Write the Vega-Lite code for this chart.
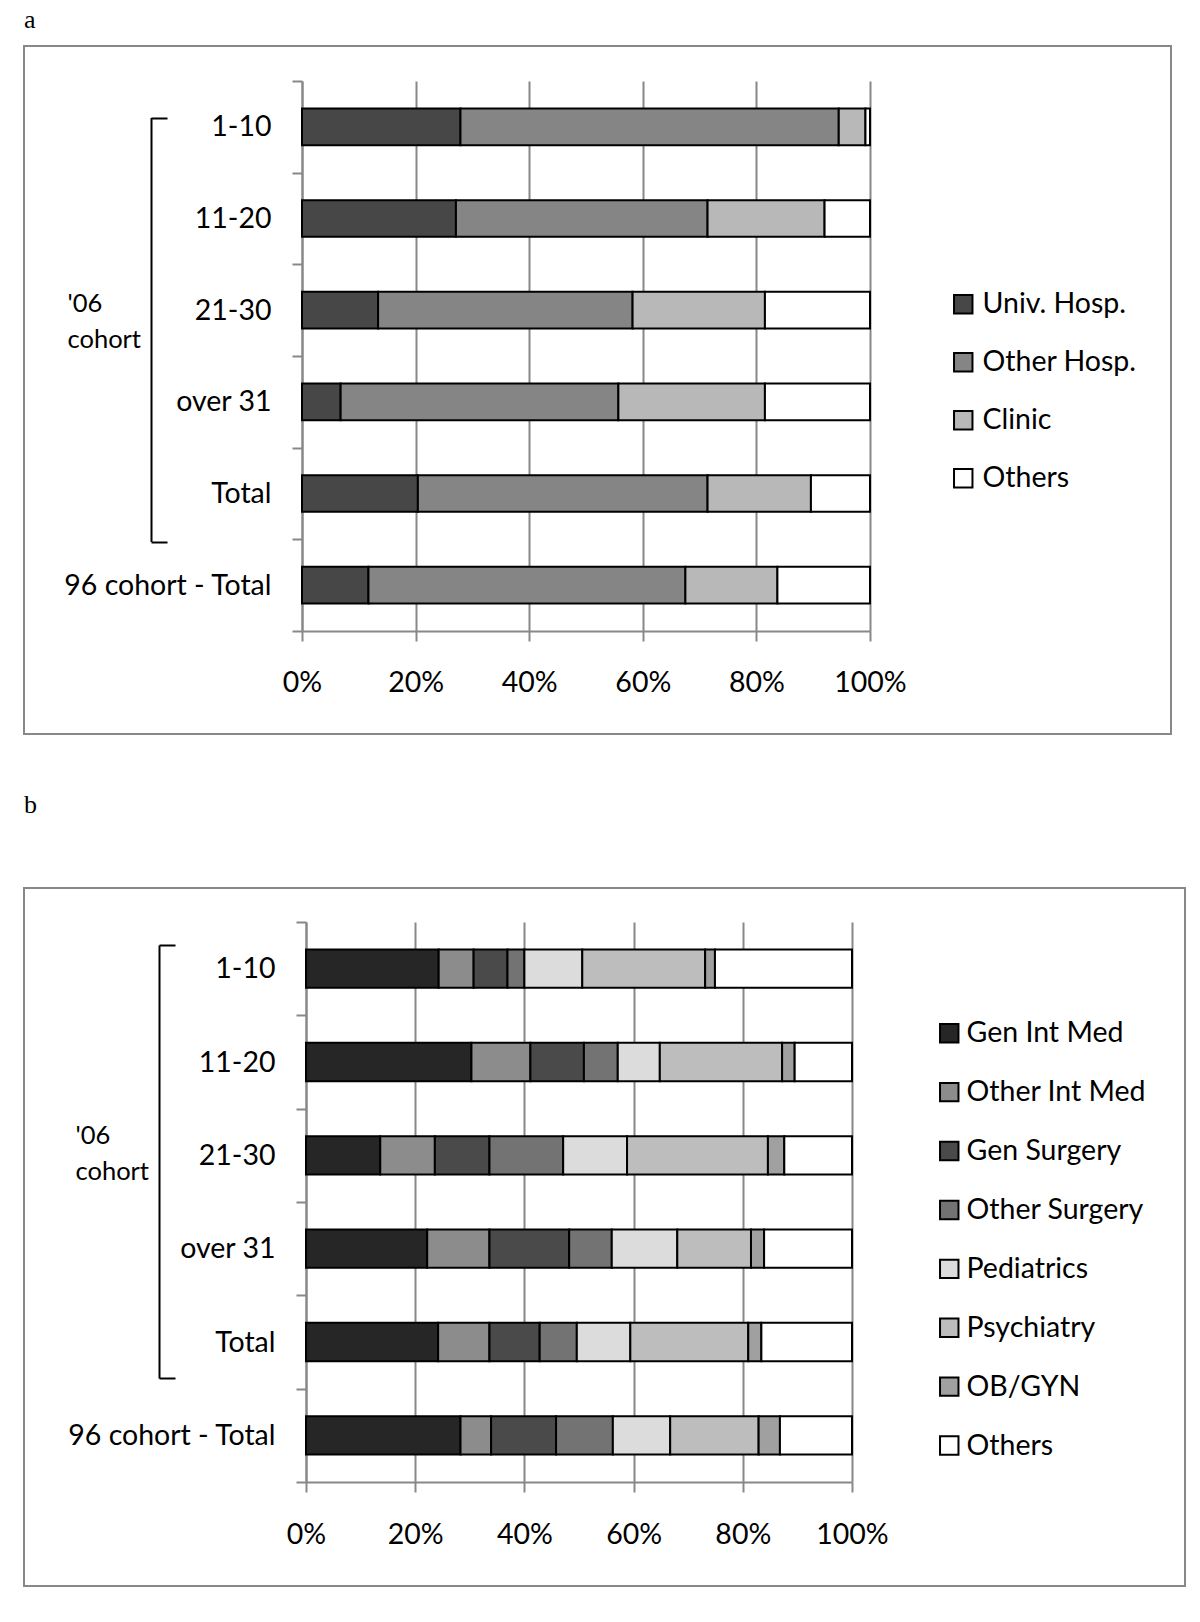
{
  "$schema": "https://vega.github.io/schema/vega-lite/v6.json",
  "background": "white",
  "padding": {"left": 23, "top": 6, "right": 0, "bottom": 0},
  "spacing": 56,
  "datasets": {
    "place": [
      {"g": "1-10", "t": "Univ. Hosp.", "p": 27.9, "o": 1},
      {"g": "1-10", "t": "Other Hosp.", "p": 66.6, "o": 2},
      {"g": "1-10", "t": "Clinic", "p": 4.7, "o": 3},
      {"g": "1-10", "t": "Others", "p": 0.8, "o": 4},
      {"g": "11-20", "t": "Univ. Hosp.", "p": 27.1, "o": 1},
      {"g": "11-20", "t": "Other Hosp.", "p": 44.3, "o": 2},
      {"g": "11-20", "t": "Clinic", "p": 20.6, "o": 3},
      {"g": "11-20", "t": "Others", "p": 8.0, "o": 4},
      {"g": "21-30", "t": "Univ. Hosp.", "p": 13.4, "o": 1},
      {"g": "21-30", "t": "Other Hosp.", "p": 44.8, "o": 2},
      {"g": "21-30", "t": "Clinic", "p": 23.3, "o": 3},
      {"g": "21-30", "t": "Others", "p": 18.5, "o": 4},
      {"g": "over 31", "t": "Univ. Hosp.", "p": 6.8, "o": 1},
      {"g": "over 31", "t": "Other Hosp.", "p": 48.9, "o": 2},
      {"g": "over 31", "t": "Clinic", "p": 25.8, "o": 3},
      {"g": "over 31", "t": "Others", "p": 18.5, "o": 4},
      {"g": "Total", "t": "Univ. Hosp.", "p": 20.4, "o": 1},
      {"g": "Total", "t": "Other Hosp.", "p": 51.0, "o": 2},
      {"g": "Total", "t": "Clinic", "p": 18.2, "o": 3},
      {"g": "Total", "t": "Others", "p": 10.4, "o": 4},
      {"g": "96 cohort - Total", "t": "Univ. Hosp.", "p": 11.7, "o": 1},
      {"g": "96 cohort - Total", "t": "Other Hosp.", "p": 55.8, "o": 2},
      {"g": "96 cohort - Total", "t": "Clinic", "p": 16.2, "o": 3},
      {"g": "96 cohort - Total", "t": "Others", "p": 16.3, "o": 4}
    ],
    "dept": [
      {"g": "1-10", "t": "Gen Int Med", "p": 24.3, "o": 1},
      {"g": "1-10", "t": "Other Int Med", "p": 6.4, "o": 2},
      {"g": "1-10", "t": "Gen Surgery", "p": 6.2, "o": 3},
      {"g": "1-10", "t": "Other Surgery", "p": 3.1, "o": 4},
      {"g": "1-10", "t": "Pediatrics", "p": 10.6, "o": 5},
      {"g": "1-10", "t": "Psychiatry", "p": 22.5, "o": 6},
      {"g": "1-10", "t": "OB/GYN", "p": 1.8, "o": 7},
      {"g": "1-10", "t": "Others", "p": 25.1, "o": 8},
      {"g": "11-20", "t": "Gen Int Med", "p": 30.3, "o": 1},
      {"g": "11-20", "t": "Other Int Med", "p": 10.8, "o": 2},
      {"g": "11-20", "t": "Gen Surgery", "p": 9.8, "o": 3},
      {"g": "11-20", "t": "Other Surgery", "p": 6.2, "o": 4},
      {"g": "11-20", "t": "Pediatrics", "p": 7.7, "o": 5},
      {"g": "11-20", "t": "Psychiatry", "p": 22.4, "o": 6},
      {"g": "11-20", "t": "OB/GYN", "p": 2.3, "o": 7},
      {"g": "11-20", "t": "Others", "p": 10.5, "o": 8},
      {"g": "21-30", "t": "Gen Int Med", "p": 13.6, "o": 1},
      {"g": "21-30", "t": "Other Int Med", "p": 10.0, "o": 2},
      {"g": "21-30", "t": "Gen Surgery", "p": 10.0, "o": 3},
      {"g": "21-30", "t": "Other Surgery", "p": 13.5, "o": 4},
      {"g": "21-30", "t": "Pediatrics", "p": 11.7, "o": 5},
      {"g": "21-30", "t": "Psychiatry", "p": 25.8, "o": 6},
      {"g": "21-30", "t": "OB/GYN", "p": 3.0, "o": 7},
      {"g": "21-30", "t": "Others", "p": 12.4, "o": 8},
      {"g": "over 31", "t": "Gen Int Med", "p": 22.2, "o": 1},
      {"g": "over 31", "t": "Other Int Med", "p": 11.4, "o": 2},
      {"g": "over 31", "t": "Gen Surgery", "p": 14.6, "o": 3},
      {"g": "over 31", "t": "Other Surgery", "p": 7.8, "o": 4},
      {"g": "over 31", "t": "Pediatrics", "p": 12.0, "o": 5},
      {"g": "over 31", "t": "Psychiatry", "p": 13.5, "o": 6},
      {"g": "over 31", "t": "OB/GYN", "p": 2.4, "o": 7},
      {"g": "over 31", "t": "Others", "p": 16.1, "o": 8},
      {"g": "Total", "t": "Gen Int Med", "p": 24.2, "o": 1},
      {"g": "Total", "t": "Other Int Med", "p": 9.4, "o": 2},
      {"g": "Total", "t": "Gen Surgery", "p": 9.2, "o": 3},
      {"g": "Total", "t": "Other Surgery", "p": 6.8, "o": 4},
      {"g": "Total", "t": "Pediatrics", "p": 9.8, "o": 5},
      {"g": "Total", "t": "Psychiatry", "p": 21.6, "o": 6},
      {"g": "Total", "t": "OB/GYN", "p": 2.4, "o": 7},
      {"g": "Total", "t": "Others", "p": 16.6, "o": 8},
      {"g": "96 cohort - Total", "t": "Gen Int Med", "p": 28.3, "o": 1},
      {"g": "96 cohort - Total", "t": "Other Int Med", "p": 5.6, "o": 2},
      {"g": "96 cohort - Total", "t": "Gen Surgery", "p": 11.9, "o": 3},
      {"g": "96 cohort - Total", "t": "Other Surgery", "p": 10.4, "o": 4},
      {"g": "96 cohort - Total", "t": "Pediatrics", "p": 10.5, "o": 5},
      {"g": "96 cohort - Total", "t": "Psychiatry", "p": 16.2, "o": 6},
      {"g": "96 cohort - Total", "t": "OB/GYN", "p": 3.9, "o": 7},
      {"g": "96 cohort - Total", "t": "Others", "p": 13.2, "o": 8}
    ],
    "cohort": [{"c": "'06 cohort"}]
  },
  "vconcat": [
    {
      "width": 1147,
      "height": 688,
      "title": {"text": "a", "anchor": "start", "frame": "group", "font": "Liberation Serif", "fontSize": 26, "fontWeight": "normal", "color": "black", "offset": -1},
      "layer": [
        {
          "data": {"name": "place"},
          "mark": {"type": "bar", "stroke": "black", "strokeWidth": 2, "height": {"band": 0.4}},
          "encoding": {
            "y": {
              "field": "g", "type": "nominal",
              "sort": ["1-10", "11-20", "21-30", "over 31", "Total", "96 cohort - Total"],
              "scale": {"range": [35, 585], "paddingInner": 0, "paddingOuter": 0},
              "axis": {"orient": "left", "offset": -278, "title": null, "tickBand": "extent", "domainColor": "#888", "domainWidth": 2, "tickColor": "#888", "tickWidth": 2, "tickSize": 10, "labelPadding": 21, "labelFont": "Lato", "labelFontSize": 28.5, "labelColor": "black", "labelLimit": 400, "grid": false}
            },
            "x": {
              "field": "p", "type": "quantitative", "stack": "zero",
              "scale": {"domain": [0, 100], "range": [278, 846], "nice": false},
              "axis": {"orient": "top", "offset": -585, "title": null, "values": [0, 20, 40, 60, 80, 100], "labelExpr": "datum.value + '%'", "grid": true, "gridColor": "#888", "gridWidth": 2, "gridOpacity": 1, "domainColor": "#888", "domainWidth": 2, "tickColor": "#888", "tickWidth": 2, "tickSize": -10, "labelPadding": -27, "labelBaseline": "top", "labelFont": "Lato", "labelFontSize": 28.5, "labelColor": "black", "labelFlush": false}
            },
            "fill": {
              "field": "t", "type": "nominal",
              "scale": {"domain": ["Univ. Hosp.", "Other Hosp.", "Clinic", "Others"], "range": ["#474747", "#858585", "#b8b8b8", "#ffffff"]},
              "legend": {"orient": "none", "legendX": 925, "legendY": 244, "title": null, "symbolType": "square", "symbolSize": 340, "symbolStrokeColor": "black", "symbolStrokeWidth": 2, "symbolOpacity": 1, "labelFont": "Lato", "labelFontSize": 28.5, "labelColor": "black", "labelOffset": 5, "rowPadding": 29, "padding": 0, "labelLimit": 300}
            },
            "order": {"field": "o"}
          }
        },
        {
          "data": {"name": "cohort"},
          "mark": {"type": "point", "opacity": 0},
          "encoding": {
            "y": {
              "field": "c", "type": "nominal",
              "scale": {"range": [71.5, 495.5], "paddingInner": 0, "paddingOuter": 0},
              "axis": {"orient": "left", "offset": -127, "labels": false, "tickBand": "extent", "domainColor": "black", "domainWidth": 2, "tickColor": "black", "tickWidth": 2, "tickSize": -16, "grid": false, "title": ["'06", "cohort"], "titleAngle": 0, "titleAlign": "left", "titleBaseline": "top", "titleX": -84, "titleY": 245, "titleFont": "Lato", "titleFontSize": 25.5, "titleFontWeight": "normal", "titleColor": "black", "titleLineHeight": 36}
            }
          }
        }
      ],
      "resolve": {"scale": {"y": "independent"}, "axis": {"y": "independent"}}
    },
    {
      "width": 1161,
      "height": 698,
      "title": {"text": "b", "anchor": "start", "frame": "group", "font": "Liberation Serif", "fontSize": 26, "fontWeight": "normal", "color": "black", "offset": 56},
      "layer": [
        {
          "data": {"name": "dept"},
          "mark": {"type": "bar", "stroke": "black", "strokeWidth": 2, "height": {"band": 0.41}},
          "encoding": {
            "y": {
              "field": "g", "type": "nominal",
              "sort": ["1-10", "11-20", "21-30", "over 31", "Total", "96 cohort - Total"],
              "scale": {"range": [34, 594], "paddingInner": 0, "paddingOuter": 0},
              "axis": {"orient": "left", "offset": -282, "title": null, "tickBand": "extent", "domainColor": "#888", "domainWidth": 2, "tickColor": "#888", "tickWidth": 2, "tickSize": 10, "labelPadding": 21, "labelFont": "Lato", "labelFontSize": 28.5, "labelColor": "black", "labelLimit": 400, "grid": false}
            },
            "x": {
              "field": "p", "type": "quantitative", "stack": "zero",
              "scale": {"domain": [0, 100], "range": [282, 828], "nice": false},
              "axis": {"orient": "top", "offset": -594, "title": null, "values": [0, 20, 40, 60, 80, 100], "labelExpr": "datum.value + '%'", "grid": true, "gridColor": "#888", "gridWidth": 2, "gridOpacity": 1, "domainColor": "#888", "domainWidth": 2, "tickColor": "#888", "tickWidth": 2, "tickSize": -10, "labelPadding": -28, "labelBaseline": "top", "labelFont": "Lato", "labelFontSize": 28.5, "labelColor": "black", "labelFlush": false}
            },
            "fill": {
              "field": "t", "type": "nominal",
              "scale": {"domain": ["Gen Int Med", "Other Int Med", "Gen Surgery", "Other Surgery", "Pediatrics", "Psychiatry", "OB/GYN", "Others"], "range": ["#262626", "#8c8c8c", "#4a4a4a", "#737373", "#dcdcdc", "#bdbdbd", "#a0a0a0", "#ffffff"]},
              "legend": {"orient": "none", "legendX": 911, "legendY": 131, "title": null, "symbolType": "square", "symbolSize": 340, "symbolStrokeColor": "black", "symbolStrokeWidth": 2, "symbolOpacity": 1, "labelFont": "Lato", "labelFontSize": 28.5, "labelColor": "black", "labelOffset": 3, "rowPadding": 29.9, "padding": 0, "labelLimit": 300}
            },
            "order": {"field": "o"}
          }
        },
        {
          "data": {"name": "cohort"},
          "mark": {"type": "point", "opacity": 0},
          "encoding": {
            "y": {
              "field": "c", "type": "nominal",
              "scale": {"range": [57, 490], "paddingInner": 0, "paddingOuter": 0},
              "axis": {"orient": "left", "offset": -135, "labels": false, "tickBand": "extent", "domainColor": "black", "domainWidth": 2, "tickColor": "black", "tickWidth": 2, "tickSize": -16, "grid": false, "title": ["'06", "cohort"], "titleAngle": 0, "titleAlign": "left", "titleBaseline": "top", "titleX": -84, "titleY": 235, "titleFont": "Lato", "titleFontSize": 25.5, "titleFontWeight": "normal", "titleColor": "black", "titleLineHeight": 36}
            }
          }
        }
      ],
      "resolve": {"scale": {"y": "independent"}, "axis": {"y": "independent"}}
    }
  ],
  "resolve": {"scale": {"x": "independent", "y": "independent", "fill": "independent"}, "legend": {"fill": "independent"}},
  "config": {
    "view": {"stroke": "#888", "strokeWidth": 2},
    "font": "Lato"
  }
}
